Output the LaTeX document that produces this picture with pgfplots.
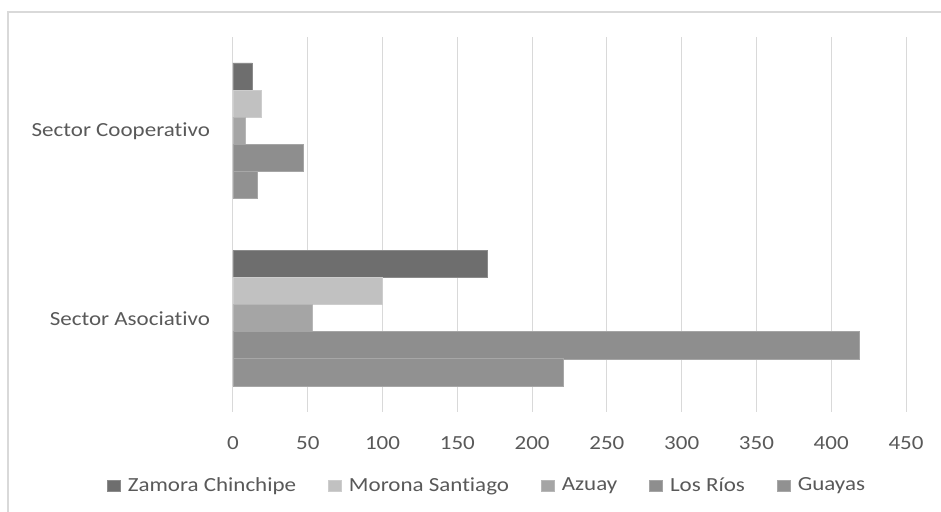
\documentclass[border=0pt]{standalone}
\usepackage{pgfplots}
\pgfplotsset{compat=1.18}
\usepackage{fontspec}
\setmainfont{Carlito}[FakeStretch=1.15, Ligatures={NoCommon}]
\definecolor{czam}{HTML}{6E6E6E}
\definecolor{cmor}{HTML}{C1C1C1}
\definecolor{cazu}{HTML}{A5A5A5}
\definecolor{clos}{HTML}{8E8E8E}
\definecolor{cgua}{HTML}{919191}
\definecolor{gridc}{HTML}{D9D9D9}
\definecolor{textc}{HTML}{595959}
\begin{document}
\begin{tikzpicture}
\path[use as bounding box] (0,0) rectangle (470.5pt,256pt);
\draw[color=gridc, line width=0.75pt] (4pt,-5pt) -- (4pt,250pt) -- (480pt,250pt);
\begin{axis}[
  at={(116.5pt,50pt)}, anchor=south west,
  scale only axis, width=336.5pt, height=187.5pt,
  xmin=0, xmax=450, ymin=-0.5, ymax=1.5,
  xtick={0,50,...,450},
  ytick={0,1}, yticklabels={Sector Asociativo, Sector Cooperativo},
  axis line style={draw=none}, major tick length=0pt,
  xmajorgrids, grid style={color=gridc, line width=0.5pt},
  xbar, bar width=13.55pt, bar shift=0pt,
  font=\fontsize{10pt}{12pt}\selectfont,
  ticklabel style={color=textc, font=\fontsize{10pt}{12pt}\selectfont},
  /pgf/number format/assume math mode=true,
  xticklabel style={yshift=-8.5pt},
  yticklabel style={xshift=-8pt},
  legend columns=5,
  legend style={draw=none, at={(0.379,-0.197)}, anchor=center,
    font=\fontsize{10pt}{12pt}\selectfont, text=textc,
    /tikz/every even column/.append style={column sep=14pt}},
  legend image code/.code={\fill[#1] (0pt,-2.75pt) rectangle (6.5pt,2.75pt); \path (8pt,0pt);},
]
\addplot[fill=czam, draw=czam!80!white, line width=0.4pt] coordinates {(170,0.289) (13,1.289)};
\addplot[fill=cmor, draw=cmor!80!white, line width=0.4pt] coordinates {(100,0.1447) (19,1.1447)};
\addplot[fill=cazu, draw=cazu!80!white, line width=0.4pt] coordinates {(53,0) (8,1)};
\addplot[fill=clos, draw=clos!80!white, line width=0.4pt] coordinates {(419,-0.1447) (47,0.8553)};
\addplot[fill=cgua, draw=cgua!80!white, line width=0.4pt] coordinates {(221,-0.289) (16,0.711)};
\legend{Zamora Chinchipe, Morona Santiago, Azuay, Los Ríos, Guayas}
\end{axis}
\end{tikzpicture}
\end{document}
